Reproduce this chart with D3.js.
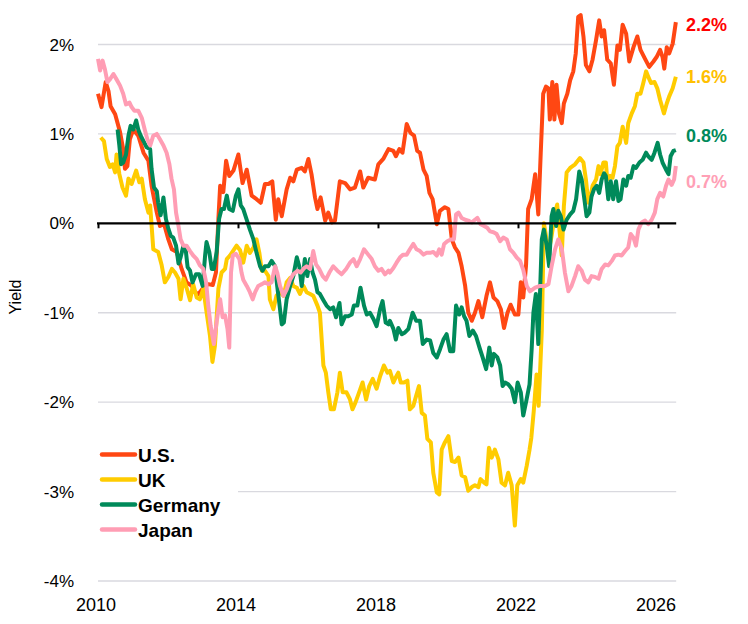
<!DOCTYPE html>
<html>
<head>
<meta charset="utf-8">
<script src="https://cdn.jsdelivr.net/npm/d3@7"></script>
<style>
  body { margin: 0; background: #fff; }
  svg { font-family: "Liberation Sans", Arial, sans-serif; }
</style>
</head>
<body>
<svg id="chart" width="748" height="624"></svg>
<script>
// tick labels
const yTicks = [2, 1, 0, -1, -2, -3, -4];
const xTicks = [2010, 2014, 2018, 2022, 2026];

// series: [decimal year, yield %]
const usData = [
  [2010.00,1.45],[2010.10,1.30],[2010.22,1.58],[2010.30,1.48],[2010.36,1.31],[2010.49,1.22],[2010.63,1.02],
  [2010.72,0.83],[2010.77,0.61],[2010.84,0.64],[2010.91,0.94],[2011.01,1.05],[2011.15,0.98],[2011.30,0.79],
  [2011.44,0.70],[2011.53,0.42],[2011.68,0.12],[2011.77,-0.03],[2011.89,-0.01],[2012.01,-0.18],[2012.11,-0.29],
  [2012.25,-0.32],[2012.39,-0.51],[2012.53,-0.66],[2012.68,-0.70],[2012.77,-0.77],[2012.87,-0.79],[2013.01,-0.72],
  [2013.15,-0.68],[2013.28,-0.69],[2013.37,-0.55],[2013.44,0.05],[2013.49,0.42],[2013.58,0.35],[2013.66,0.70],
  [2013.75,0.53],[2013.87,0.59],[2014.01,0.77],[2014.13,0.45],[2014.25,0.60],[2014.39,0.31],[2014.53,0.27],
  [2014.65,0.23],[2014.77,0.44],[2014.87,0.44],[2014.98,0.47],[2015.08,0.04],[2015.15,0.27],[2015.25,0.08],
  [2015.39,0.38],[2015.49,0.51],[2015.58,0.47],[2015.68,0.60],[2015.82,0.62],[2015.91,0.58],[2016.01,0.72],
  [2016.10,0.55],[2016.20,0.29],[2016.27,0.16],[2016.36,0.29],[2016.49,0.03],[2016.58,0.12],[2016.68,0.01],
  [2016.77,0.03],[2016.91,0.47],[2017.06,0.45],[2017.20,0.38],[2017.34,0.40],[2017.49,0.58],[2017.58,0.40],
  [2017.72,0.51],[2017.91,0.49],[2018.01,0.66],[2018.15,0.72],[2018.30,0.83],[2018.44,0.81],[2018.51,0.75],
  [2018.61,0.83],[2018.70,0.79],[2018.82,1.11],[2018.93,1.01],[2019.03,0.98],[2019.12,0.81],[2019.20,0.79],
  [2019.30,0.60],[2019.39,0.53],[2019.47,0.34],[2019.56,0.27],[2019.68,-0.01],[2019.77,0.14],[2019.91,0.18],
  [2020.01,0.16],[2020.11,-0.18],[2020.20,-0.27],[2020.30,-0.33],[2020.39,-0.48],[2020.49,-0.70],[2020.58,-1.00],
  [2020.68,-1.09],[2020.77,-1.00],[2020.87,-0.87],[2020.98,-1.05],[2021.10,-0.81],[2021.20,-0.66],[2021.30,-0.83],
  [2021.41,-0.87],[2021.51,-0.96],[2021.60,-1.17],[2021.70,-1.00],[2021.79,-0.91],[2021.91,-1.02],[2022.01,-1.02],
  [2022.08,-0.66],[2022.15,-0.83],[2022.23,-0.47],[2022.29,0.16],[2022.39,0.27],[2022.49,0.55],[2022.58,0.10],
  [2022.65,0.79],[2022.72,1.45],[2022.80,1.53],[2022.87,1.51],[2022.91,1.16],[2022.98,1.58],[2023.04,1.16],
  [2023.10,1.55],[2023.17,1.23],[2023.25,1.12],[2023.31,1.34],[2023.41,1.45],[2023.49,1.60],[2023.58,1.70],
  [2023.65,1.90],[2023.72,2.31],[2023.79,2.33],[2023.87,2.09],[2023.94,1.77],[2024.04,1.70],[2024.13,1.83],
  [2024.23,2.05],[2024.32,2.27],[2024.39,2.09],[2024.46,2.16],[2024.55,1.83],[2024.65,1.79],[2024.74,1.55],
  [2024.84,1.99],[2024.91,1.94],[2024.99,2.22],[2025.09,2.12],[2025.18,1.81],[2025.30,1.97],[2025.41,2.09],
  [2025.50,1.94],[2025.63,1.84],[2025.75,1.75],[2025.87,1.81],[2025.96,1.86],[2026.06,1.94],[2026.13,1.86],
  [2026.18,1.73],[2026.25,1.97],[2026.32,1.90],[2026.42,2.01],[2026.51,2.25]
];

const ukData = [
  [2010.08,0.96],[2010.17,0.92],[2010.25,0.72],[2010.34,0.63],[2010.42,0.66],[2010.49,0.57],[2010.53,0.77],
  [2010.61,0.55],[2010.70,0.40],[2010.80,0.31],[2010.87,0.50],[2010.96,0.44],[2011.09,0.59],[2011.18,0.46],
  [2011.25,0.50],[2011.34,0.27],[2011.44,0.12],[2011.49,0.20],[2011.58,-0.29],[2011.72,-0.32],[2011.82,-0.47],
  [2011.91,-0.66],[2012.01,-0.60],[2012.11,-0.51],[2012.20,-0.55],[2012.30,-0.62],[2012.36,-0.85],[2012.44,-0.62],
  [2012.53,-0.72],[2012.63,-0.86],[2012.72,-0.68],[2012.82,-0.83],[2012.91,-0.85],[2013.01,-0.73],[2013.10,-0.99],
  [2013.20,-1.26],[2013.27,-1.55],[2013.34,-1.37],[2013.44,-0.73],[2013.53,-0.55],[2013.63,-0.51],[2013.68,-0.40],
  [2013.77,-0.36],[2013.96,-0.25],[2014.06,-0.30],[2014.15,-0.44],[2014.25,-0.25],[2014.34,-0.33],[2014.44,-0.27],
  [2014.53,-0.18],[2014.61,-0.33],[2014.68,-0.53],[2014.77,-0.53],[2014.87,-0.59],[2014.91,-0.85],[2015.01,-0.96],
  [2015.10,-0.81],[2015.20,-0.77],[2015.30,-0.81],[2015.39,-0.66],[2015.49,-0.61],[2015.58,-0.70],[2015.68,-0.72],
  [2015.77,-0.79],[2015.87,-0.70],[2015.96,-0.77],[2016.06,-0.79],[2016.15,-0.81],[2016.27,-0.92],[2016.34,-1.00],
  [2016.44,-1.59],[2016.51,-1.67],[2016.58,-1.89],[2016.65,-2.08],[2016.74,-2.08],[2016.84,-1.89],[2016.91,-1.67],
  [2016.99,-1.89],[2017.10,-1.89],[2017.20,-1.97],[2017.27,-2.08],[2017.36,-2.00],[2017.46,-1.89],[2017.56,-1.78],
  [2017.66,-1.97],[2017.75,-1.82],[2017.85,-1.74],[2017.96,-1.85],[2018.06,-1.71],[2018.17,-1.59],[2018.27,-1.67],
  [2018.34,-1.65],[2018.44,-1.78],[2018.51,-1.72],[2018.58,-1.67],[2018.65,-1.78],[2018.74,-1.78],[2018.84,-1.76],
  [2018.91,-2.08],[2019.01,-2.04],[2019.09,-1.93],[2019.17,-1.82],[2019.25,-2.12],[2019.34,-2.15],[2019.41,-2.41],
  [2019.51,-2.45],[2019.58,-2.79],[2019.68,-3.01],[2019.75,-3.03],[2019.82,-2.53],[2019.91,-2.45],[2020.01,-2.38],
  [2020.11,-2.66],[2020.20,-2.67],[2020.30,-2.62],[2020.39,-2.82],[2020.49,-2.84],[2020.58,-2.99],[2020.68,-2.95],
  [2020.77,-2.93],[2020.87,-2.95],[2020.93,-2.86],[2021.03,-2.90],[2021.10,-2.92],[2021.17,-2.51],[2021.25,-2.62],
  [2021.34,-2.53],[2021.44,-2.64],[2021.53,-2.90],[2021.63,-2.93],[2021.72,-2.79],[2021.82,-2.93],[2021.91,-3.38],
  [2021.98,-2.93],[2022.08,-2.86],[2022.15,-2.90],[2022.25,-2.71],[2022.33,-2.53],[2022.38,-2.40],[2022.45,-2.10],
  [2022.53,-1.69],[2022.59,-2.04],[2022.68,-1.20],[2022.74,0.00],[2022.80,-0.14],[2022.87,-0.33],[2022.96,-0.14],
  [2023.06,0.12],[2023.12,0.21],[2023.20,-0.14],[2023.25,-0.36],[2023.31,0.19],[2023.39,0.57],[2023.49,0.62],
  [2023.63,0.66],[2023.77,0.73],[2023.87,0.68],[2023.94,0.49],[2024.01,0.23],[2024.06,0.27],[2024.13,0.42],
  [2024.23,0.49],[2024.30,0.64],[2024.36,0.55],[2024.44,0.68],[2024.51,0.68],[2024.55,0.49],[2024.63,0.53],
  [2024.70,0.51],[2024.77,0.64],[2024.84,0.86],[2024.91,0.90],[2024.99,1.08],[2025.09,0.90],[2025.15,1.12],
  [2025.25,1.23],[2025.34,1.31],[2025.41,1.45],[2025.50,1.45],[2025.58,1.57],[2025.66,1.70],[2025.72,1.64],
  [2025.80,1.57],[2025.90,1.58],[2025.98,1.51],[2026.06,1.38],[2026.17,1.23],[2026.25,1.34],[2026.32,1.42],
  [2026.42,1.51],[2026.51,1.64]
];

const deData = [
  [2010.56,1.05],[2010.61,0.87],[2010.66,0.66],[2010.72,0.68],[2010.80,0.77],[2010.87,0.98],[2010.93,1.09],
  [2011.01,1.05],[2011.09,1.15],[2011.15,1.05],[2011.22,0.98],[2011.30,0.92],[2011.39,0.85],[2011.49,0.83],
  [2011.53,0.61],[2011.60,0.40],[2011.68,0.36],[2011.72,0.23],[2011.79,0.09],[2011.87,0.29],[2011.94,0.05],
  [2012.01,-0.06],[2012.08,-0.14],[2012.15,-0.16],[2012.23,-0.25],[2012.30,-0.45],[2012.36,-0.38],[2012.44,-0.25],
  [2012.51,-0.31],[2012.56,-0.49],[2012.63,-0.53],[2012.70,-0.66],[2012.80,-0.57],[2012.89,-0.57],[2012.99,-0.70],
  [2013.06,-0.36],[2013.10,-0.21],[2013.18,-0.32],[2013.25,-0.51],[2013.31,-0.51],[2013.39,-0.32],[2013.46,0.05],
  [2013.53,0.16],[2013.60,0.16],[2013.68,0.31],[2013.75,0.16],[2013.85,0.14],[2013.94,0.31],[2014.01,0.38],
  [2014.08,0.20],[2014.15,0.16],[2014.25,0.04],[2014.34,-0.07],[2014.44,-0.18],[2014.53,-0.33],[2014.63,-0.48],
  [2014.70,-0.53],[2014.77,-0.48],[2014.87,-0.48],[2014.96,-0.42],[2015.06,-0.48],[2015.12,-0.70],[2015.18,-0.89],
  [2015.25,-1.13],[2015.31,-1.11],[2015.39,-0.85],[2015.49,-0.70],[2015.58,-0.59],[2015.68,-0.38],[2015.75,-0.48],
  [2015.82,-0.70],[2015.91,-0.40],[2015.98,-0.59],[2016.06,-0.40],[2016.13,-0.55],[2016.20,-0.63],[2016.27,-0.77],
  [2016.34,-0.79],[2016.44,-0.86],[2016.53,-0.92],[2016.63,-0.96],[2016.72,-0.94],[2016.80,-1.05],[2016.90,-0.89],
  [2016.96,-1.13],[2017.06,-1.04],[2017.15,-1.04],[2017.25,-1.02],[2017.31,-0.92],[2017.41,-0.92],[2017.50,-0.72],
  [2017.60,-0.92],[2017.68,-1.02],[2017.77,-1.00],[2017.87,-1.07],[2017.96,-1.15],[2018.06,-0.96],[2018.13,-0.87],
  [2018.22,-1.11],[2018.30,-1.13],[2018.34,-1.09],[2018.44,-1.18],[2018.51,-1.30],[2018.58,-1.17],[2018.68,-1.24],
  [2018.77,-1.22],[2018.87,-1.18],[2018.99,-1.00],[2019.09,-1.09],[2019.20,-1.09],[2019.28,-1.35],[2019.39,-1.30],
  [2019.49,-1.31],[2019.58,-1.45],[2019.68,-1.50],[2019.77,-1.41],[2019.87,-1.30],[2019.96,-1.24],[2020.06,-1.43],
  [2020.15,-1.43],[2020.23,-0.92],[2020.32,-1.02],[2020.39,-0.94],[2020.46,-1.04],[2020.53,-1.09],[2020.61,-1.26],
  [2020.71,-1.20],[2020.80,-1.26],[2020.90,-1.39],[2020.99,-1.50],[2021.09,-1.63],[2021.18,-1.39],[2021.25,-1.59],
  [2021.31,-1.46],[2021.41,-1.50],[2021.49,-1.59],[2021.56,-1.82],[2021.63,-1.78],[2021.72,-1.80],[2021.82,-1.85],
  [2021.91,-2.00],[2021.99,-1.78],[2022.08,-1.89],[2022.15,-2.15],[2022.23,-2.00],[2022.33,-1.80],[2022.39,-1.41],
  [2022.44,-1.00],[2022.51,-0.79],[2022.58,-1.35],[2022.63,-0.77],[2022.68,-0.18],[2022.74,-0.07],[2022.82,-0.25],
  [2022.89,-0.48],[2022.96,0.08],[2023.01,0.16],[2023.09,-0.03],[2023.15,0.14],[2023.22,0.08],[2023.30,-0.07],
  [2023.39,0.04],[2023.49,0.10],[2023.58,0.14],[2023.66,0.27],[2023.75,0.58],[2023.82,0.49],[2023.89,0.29],
  [2023.96,0.08],[2024.04,0.12],[2024.10,0.30],[2024.17,0.38],[2024.25,0.42],[2024.32,0.34],[2024.39,0.49],
  [2024.46,0.56],[2024.51,0.53],[2024.58,0.27],[2024.65,0.47],[2024.72,0.27],[2024.80,0.47],[2024.87,0.25],
  [2024.93,0.27],[2025.01,0.49],[2025.09,0.42],[2025.15,0.53],[2025.22,0.51],[2025.30,0.64],[2025.37,0.62],
  [2025.47,0.68],[2025.56,0.71],[2025.66,0.79],[2025.72,0.75],[2025.82,0.71],[2025.90,0.79],[2025.99,0.90],
  [2026.06,0.77],[2026.13,0.68],[2026.23,0.60],[2026.30,0.55],[2026.36,0.75],[2026.44,0.81],[2026.51,0.82]
];

const jpData = [
  [2010.00,1.84],[2010.06,1.71],[2010.13,1.82],[2010.20,1.72],[2010.27,1.58],[2010.34,1.61],[2010.44,1.67],
  [2010.53,1.61],[2010.63,1.54],[2010.72,1.45],[2010.80,1.33],[2010.90,1.35],[2010.96,1.30],[2011.04,1.26],
  [2011.15,1.26],[2011.25,1.18],[2011.34,1.04],[2011.41,0.94],[2011.49,0.87],[2011.58,0.98],[2011.68,1.00],
  [2011.77,0.94],[2011.87,0.87],[2011.96,0.79],[2012.04,0.66],[2012.10,0.50],[2012.17,0.38],[2012.23,0.12],
  [2012.30,-0.03],[2012.36,-0.18],[2012.44,-0.25],[2012.53,-0.25],[2012.63,-0.31],[2012.72,-0.36],[2012.82,-0.40],
  [2012.91,-0.47],[2013.01,-0.51],[2013.09,-0.66],[2013.15,-0.92],[2013.22,-1.15],[2013.31,-1.35],[2013.39,-1.10],
  [2013.49,-0.85],[2013.56,-1.05],[2013.63,-1.03],[2013.70,-1.18],[2013.75,-1.39],[2013.80,-0.55],[2013.85,-0.36],
  [2013.94,-0.34],[2014.04,-0.40],[2014.10,-0.55],[2014.15,-0.63],[2014.25,-0.70],[2014.34,-0.77],[2014.42,-0.85],
  [2014.49,-0.77],[2014.58,-0.70],[2014.68,-0.68],[2014.77,-0.66],[2014.87,-0.68],[2014.96,-0.66],[2015.06,-0.48],
  [2015.12,-0.55],[2015.20,-0.70],[2015.30,-0.81],[2015.39,-0.74],[2015.49,-0.63],[2015.58,-0.57],[2015.70,-0.53],
  [2015.79,-0.55],[2015.89,-0.50],[2015.96,-0.48],[2016.06,-0.51],[2016.15,-0.31],[2016.23,-0.46],[2016.32,-0.51],
  [2016.42,-0.59],[2016.51,-0.63],[2016.61,-0.55],[2016.72,-0.48],[2016.84,-0.53],[2016.96,-0.57],[2017.09,-0.51],
  [2017.20,-0.44],[2017.30,-0.40],[2017.39,-0.48],[2017.49,-0.40],[2017.60,-0.29],[2017.72,-0.35],[2017.82,-0.40],
  [2017.91,-0.48],[2018.01,-0.53],[2018.10,-0.51],[2018.20,-0.57],[2018.30,-0.53],[2018.34,-0.55],[2018.44,-0.50],
  [2018.53,-0.44],[2018.63,-0.38],[2018.72,-0.35],[2018.82,-0.35],[2018.91,-0.29],[2019.01,-0.23],[2019.10,-0.29],
  [2019.20,-0.31],[2019.30,-0.35],[2019.39,-0.33],[2019.49,-0.33],[2019.58,-0.32],[2019.68,-0.36],[2019.75,-0.29],
  [2019.82,-0.35],[2019.89,-0.23],[2019.98,-0.20],[2020.08,-0.18],[2020.17,-0.18],[2020.23,0.10],[2020.30,0.12],
  [2020.39,0.06],[2020.49,0.04],[2020.58,0.03],[2020.68,0.01],[2020.77,0.04],[2020.84,0.06],[2020.93,-0.01],
  [2021.03,-0.03],[2021.12,-0.05],[2021.20,-0.09],[2021.30,-0.10],[2021.39,-0.12],[2021.49,-0.20],[2021.58,-0.16],
  [2021.68,-0.18],[2021.77,-0.29],[2021.87,-0.33],[2021.96,-0.38],[2022.06,-0.42],[2022.15,-0.52],[2022.25,-0.70],
  [2022.34,-0.76],[2022.49,-0.72],[2022.63,-0.70],[2022.77,-0.70],[2022.87,-0.68],[2022.96,-0.48],[2023.06,-0.29],
  [2023.15,-0.18],[2023.25,-0.28],[2023.34,-0.55],[2023.44,-0.76],[2023.53,-0.70],[2023.63,-0.59],[2023.72,-0.48],
  [2023.82,-0.53],[2023.91,-0.63],[2024.01,-0.66],[2024.10,-0.59],[2024.20,-0.60],[2024.30,-0.62],[2024.39,-0.51],
  [2024.49,-0.46],[2024.58,-0.47],[2024.68,-0.42],[2024.77,-0.36],[2024.87,-0.35],[2024.96,-0.36],[2025.06,-0.31],
  [2025.15,-0.27],[2025.22,-0.12],[2025.30,-0.16],[2025.37,-0.25],[2025.44,-0.07],[2025.53,0.01],[2025.63,0.03],
  [2025.72,-0.01],[2025.82,0.04],[2025.91,0.12],[2025.98,0.27],[2026.06,0.34],[2026.15,0.30],[2026.23,0.42],
  [2026.30,0.49],[2026.39,0.43],[2026.46,0.49],[2026.51,0.64]
];

const seriesNames = ["U.S.", "UK", "Germany", "Japan"];
const seriesColors = ["#ff4713", "#ffcc00", "#008a5a", "#ff9db4"];
const labelColors = ["#ff0000", "#ffc000", "#008a5a", "#ffa0b6"];
const endLabels = ["2.2%", "1.6%", "0.8%", "0.7%"];
const allSeries = [usData, ukData, deData, jpData];

const svg = d3.select("#chart");

const x = d3.scaleLinear().domain([2010, 2026]).range([98, 658]);
const y = d3.scaleLinear().domain([-4, 2]).range([581, 44.5]);
const xEnd = x(2026.52);

// gridlines
svg.append("g")
  .selectAll("line")
  .data(yTicks.filter(d => d !== 0))
  .join("line")
  .attr("x1", x(2010)).attr("x2", xEnd)
  .attr("y1", d => y(d)).attr("y2", d => y(d))
  .attr("stroke", "#d9d9df").attr("stroke-width", 1.3);

// y labels
svg.append("g")
  .selectAll("text")
  .data(yTicks)
  .join("text")
  .attr("x", 74)
  .attr("y", d => y(d) + 6)
  .attr("text-anchor", "end")
  .attr("font-size", 17)
  .attr("fill", "#000")
  .text(d => d + "%");

svg.append("text")
  .attr("transform", "translate(21,297) rotate(-90)")
  .attr("text-anchor", "middle")
  .attr("font-size", 16)
  .text("Yield");

// series lines (U.S. first, Japan on top)
const line = d3.line().x(d => x(d[0])).y(d => y(d[1]));
svg.append("g")
  .selectAll("path")
  .data(allSeries)
  .join("path")
  .attr("d", line)
  .attr("fill", "none")
  .attr("stroke", (d, i) => seriesColors[i])
  .attr("stroke-width", 4)
  .attr("stroke-linejoin", "round");

// zero axis with ticks
const xAxis = d3.axisBottom(x).tickValues(xTicks).tickSize(5).tickFormat("");
const ax = svg.append("g").attr("transform", `translate(0,${y(0)})`).call(xAxis);
ax.select(".domain").remove();
ax.selectAll(".tick line").attr("stroke", "#000").attr("stroke-width", 2);
svg.append("line")
  .attr("x1", x(2010) - 1).attr("x2", xEnd)
  .attr("y1", y(0)).attr("y2", y(0))
  .attr("stroke", "#000").attr("stroke-width", 2.4);

// x labels
svg.append("g")
  .selectAll("text")
  .data(xTicks)
  .join("text")
  .attr("x", d => x(d) - 2)
  .attr("y", 611)
  .attr("text-anchor", "middle")
  .attr("font-size", 18)
  .text(d => d);

// legend
const legend = svg.append("g");
legend.append("rect")
  .attr("x", 95).attr("y", 440).attr("width", 143).attr("height", 104)
  .attr("fill", "#fff");
const li = legend.selectAll("g.item")
  .data(seriesNames)
  .join("g")
  .attr("class", "item")
  .attr("transform", (d, i) => `translate(0,${454.5 + i * 25})`);
li.append("line")
  .attr("x1", 102).attr("x2", 135)
  .attr("stroke", (d, i) => seriesColors[i])
  .attr("stroke-width", 4.5)
  .attr("stroke-linecap", "round");
li.append("text")
  .attr("x", 138).attr("y", 7)
  .attr("font-size", 19).attr("font-weight", "bold")
  .text(d => d);

// end labels
const endY = [31, 83, 142, 188];
svg.append("g")
  .selectAll("text")
  .data(endLabels)
  .join("text")
  .attr("x", 686)
  .attr("y", (d, i) => endY[i])
  .attr("font-size", 18).attr("font-weight", "bold")
  .attr("fill", (d, i) => labelColors[i])
  .text(d => d);
</script>
</body>
</html>
